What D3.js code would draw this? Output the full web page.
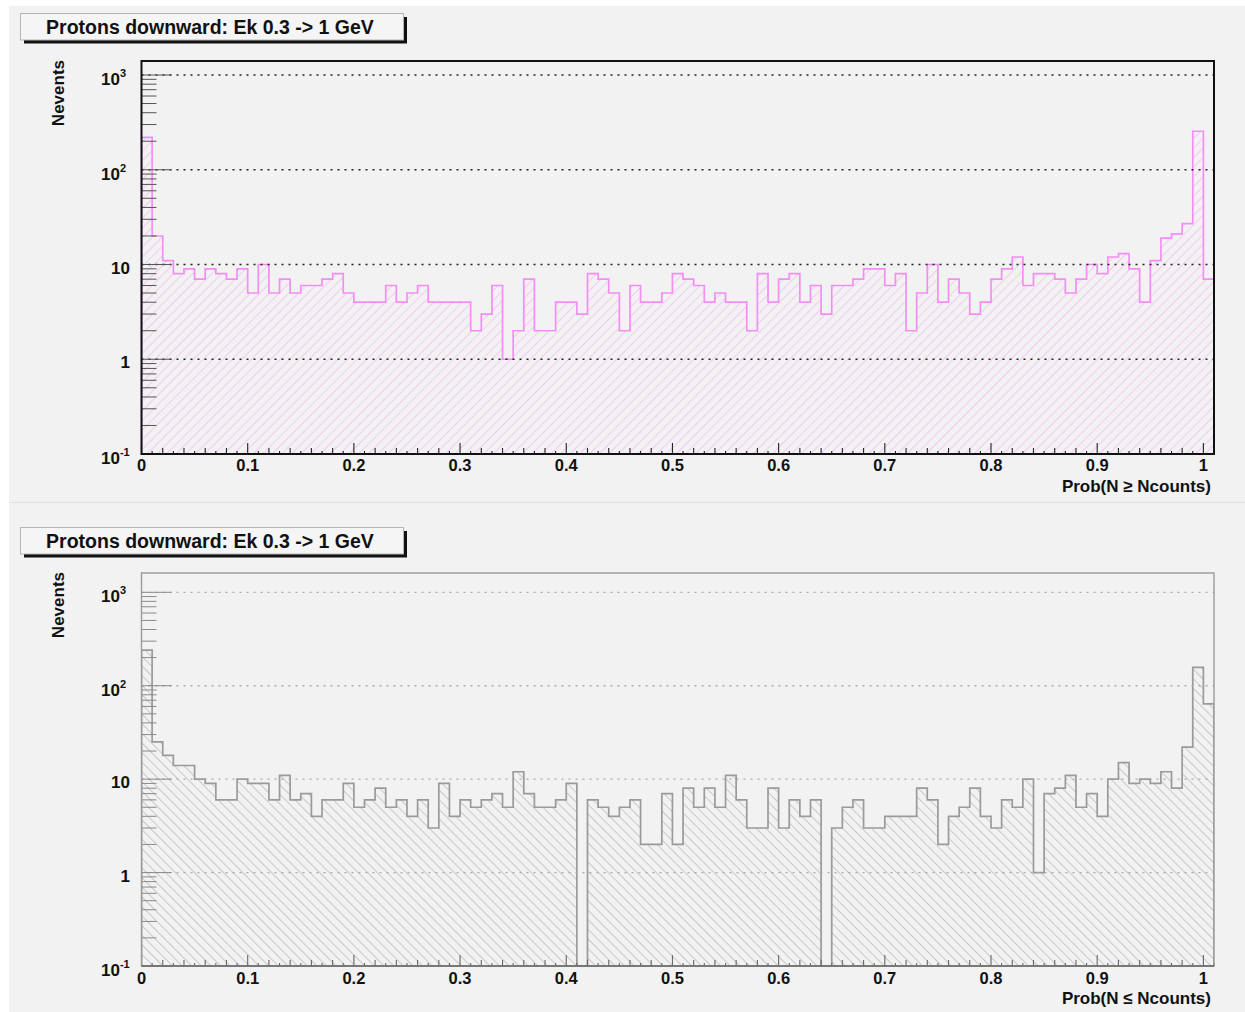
<!DOCTYPE html>
<html><head><meta charset="utf-8">
<script src="https://cdn.jsdelivr.net/npm/d3@7"></script>
<style>
html,body{margin:0;padding:0;background:#ffffff;}
svg{display:block;font-family:"Liberation Sans",Arial,Helvetica,sans-serif;}
</style>
</head><body><div id="chart"></div>
<script>
// ---------------- data ----------------
const chartTitle = "Protons downward: Ek 0.3 -> 1 GeV";
const yAxisTitle = "Nevents";
const xAxisTitles = ["Prob(N \u2265 Ncounts)", "Prob(N \u2264 Ncounts)"];
const binWidth = 0.01;
const xMin = 0, xMax = 1.01;
// counts per bin of 0.01 (101 bins, 0 -> 1.01)
const countsGE = [220,20,11,8,9,7,9,8,7,9, 5,10,5,7,5,6,6,7,8,5,
                  4,4,4,6,4,5,6,4,4,4, 4,2,3,6,1,2,7,2,2,4,
                  4,3,8,7,5,2,6,4,4,5, 8,7,6,4,5,4,4,2,8,4,
                  7,8,4,6,3,6,6,7,9,9, 6,8,2,5,10,4,7,5,3,4,
                  7,9,12,6,8,8,7,5,7,10, 8,12,13,9,4,11,19,21,27,255,
                  7];
const countsLE = [240,25,18,14,14,10,9,6,6,10, 9,9,6,11,6,7,4,6,6,9,
                  5,6,8,5,6,4,6,3,9,4, 6,5,6,7,5,12,7,5,5,6,
                  9,0,6,5,4,5,6,2,2,7, 2,8,5,8,5,11,6,3,3,8,
                  3,6,4,6,0,3,5,6,3,3, 4,4,4,8,6,2,4,5,8,4,
                  3,6,5,10,1,7,8,11,5,7, 4,10,15,9,10,9,12,8,22,157,
                  64];
const xTickValues = [0,0.1,0.2,0.3,0.4,0.5,0.6,0.7,0.8,0.9,1];
const xTickLabels = ["0","0.1","0.2","0.3","0.4","0.5","0.6","0.7","0.8","0.9","1"];
const yTickValues = [0.1,1,10,100,1000];
const yTickBase   = ["10","1","10","10","10"];
const yTickExp    = ["-1",null,null,"2","3"];

// ---------------- layout ----------------
const W = 1245, H = 1012;
const svg = d3.select("#chart").append("svg").attr("width", W).attr("height", H);
const defs = svg.append("defs");

function hatch(id, color, angle) {
  const p = defs.append("pattern").attr("id", id).attr("patternUnits", "userSpaceOnUse")
    .attr("width", 6.8).attr("height", 6.8).attr("patternTransform", `rotate(${angle})`);
  p.append("line").attr("x1", 3.4).attr("y1", 0).attr("x2", 3.4).attr("y2", 6.8)
    .attr("stroke", color).attr("stroke-width", 0.9);
}
hatch("hatchPink", "#f3c6f3", 45);
hatch("hatchGrey", "#c4c4c4", -45);

// panel backgrounds
svg.append("rect").attr("x", 9).attr("y", 6).attr("width", W - 9).attr("height", 495).attr("fill", "#f2f2f2");
svg.append("rect").attr("x", 9).attr("y", 504).attr("width", W - 9).attr("height", H - 504).attr("fill", "#f2f2f2");
svg.append("line").attr("x1", 9).attr("x2", W).attr("y1", 502.5).attr("y2", 502.5).attr("stroke", "#e2e2e2").attr("stroke-width", 2);

const panels = [
  { counts: countsGE, xTitle: xAxisTitles[0], frameTop: 61, bottom: 454, y1000: 75,
    line: "#f48ef4", fill: "url(#hatchPink)", frame: "#111", frameW: 2, tick: "#555", xtick: "#222", axis: "#111",
    grid: "#222", gridDash: "2,5", labelBase: 471, xTitleY: 492, boxY: 13, id: "c0" },
  { counts: countsLE, xTitle: xAxisTitles[1], frameTop: 573, bottom: 966, y1000: 592.3,
    line: "#9a9a9a", fill: "url(#hatchGrey)", frame: "#9a9a9a", frameW: 1.4, tick: "#8a8a8a", xtick: "#666", axis: "#666",
    grid: "#aaaaaa", gridDash: "2,5", labelBase: 984, xTitleY: 1004, boxY: 527, id: "c1" }
];

const left = 141.5, right = 1214;

panels.forEach(P => {
  const g = svg.append("g");
  const x = d3.scaleLinear().domain([xMin, xMax]).range([left, right]);
  const y = d3.scaleLog().domain([0.1, 1000]).range([P.bottom, P.y1000]);

  defs.append("clipPath").attr("id", P.id).append("rect")
    .attr("x", left).attr("y", P.frameTop).attr("width", right - left).attr("height", P.bottom - P.frameTop);

  // histogram points
  const pts = [[xMin, 0]];
  P.counts.forEach((c, i) => {
    const x0 = xMin + i * binWidth;
    pts.push([x0, c]); pts.push([x0 + binWidth, c]);
  });
  pts.push([xMax, 0]);
  const yv = v => y(Math.max(v, 0.1));

  const area = d3.area().x(p => x(p[0])).y0(P.bottom).y1(p => yv(p[1]));
  const line = d3.line().x(p => x(p[0])).y(p => yv(p[1]));

  const plot = g.append("g").attr("clip-path", `url(#${P.id})`);
  plot.append("path").attr("d", area(pts)).attr("fill", P.fill);

  // grid
  yTickValues.slice(1).forEach(v => {
    g.append("line").attr("x1", left).attr("x2", right).attr("y1", y(v)).attr("y2", y(v))
      .attr("stroke", P.grid).attr("stroke-width", 1.3).attr("stroke-dasharray", P.gridDash);
  });

  plot.append("path").attr("d", line(pts)).attr("fill", "none")
    .attr("stroke", P.line).attr("stroke-width", 1.7);

  // y ticks (log)
  [0.1, 1, 10, 100, 1000].forEach(d => {
    for (let m = 1; m <= 9; m++) {
      const yy = y(d * m);
      if (yy < P.frameTop) continue;
      const len = m === 1 ? 30 : 15;
      g.append("line").attr("x1", left).attr("x2", left + len).attr("y1", yy).attr("y2", yy)
        .attr("stroke", P.tick).attr("stroke-width", 1);
    }
  });

  // x ticks
  d3.range(0, 102).forEach(k => {
    const v = k * 0.01;
    const len = k % 10 === 0 ? 11 : (k % 2 === 0 ? 6 : 3);
    g.append("line").attr("x1", x(v)).attr("x2", x(v)).attr("y1", P.bottom).attr("y2", P.bottom - len)
      .attr("stroke", P.xtick).attr("stroke-width", 1.1);
  });

  // frame
  g.append("rect").attr("x", left).attr("y", P.frameTop).attr("width", right - left)
    .attr("height", P.bottom - P.frameTop).attr("fill", "none")
    .attr("stroke", P.frame).attr("stroke-width", P.frameW);
  g.append("line").attr("x1", left).attr("x2", right).attr("y1", P.bottom).attr("y2", P.bottom)
    .attr("stroke", P.axis).attr("stroke-width", P.frameW);

  // x tick labels
  xTickValues.forEach((v, i) => {
    g.append("text").attr("x", x(v)).attr("y", P.labelBase).attr("text-anchor", "middle")
      .attr("font-size", 16.5).attr("font-weight", "bold").attr("fill", "#111").text(xTickLabels[i]);
  });

  // y tick labels
  yTickValues.forEach((v, i) => {
    const yy = y(v);
    if (yTickExp[i]) {
      const t = g.append("text").attr("x", 101).attr("y", yy + 10).attr("text-anchor", "start")
        .attr("font-size", 17).attr("font-weight", "bold").attr("fill", "#111");
      t.append("tspan").text(yTickBase[i]);
      t.append("tspan").attr("font-size", 11).attr("dy", -8).text(yTickExp[i]);
    } else {
      g.append("text").attr("x", 130).attr("y", yy + 9).attr("text-anchor", "end")
        .attr("font-size", 17).attr("font-weight", "bold").attr("fill", "#111").text(yTickBase[i]);
    }
  });

  // axis titles
  g.append("text").attr("transform", `translate(64,${P.frameTop - 1}) rotate(-90)`)
    .attr("text-anchor", "end").attr("font-size", 17).attr("font-weight", "bold").attr("fill", "#111")
    .text(yAxisTitle);
  g.append("text").attr("x", 1211).attr("y", P.xTitleY).attr("text-anchor", "end")
    .attr("font-size", 17).attr("font-weight", "bold").attr("fill", "#111").text(P.xTitle);

  // title box with shadow
  g.append("rect").attr("x", 24).attr("y", P.boxY + 4).attr("width", 383).attr("height", 26.5).attr("fill", "#111");
  g.append("rect").attr("x", 20.5).attr("y", P.boxY + 0.5).attr("width", 383).attr("height", 26.5)
    .attr("fill", "#f5f5f5").attr("stroke", "#b5b5b5").attr("stroke-width", 1);
  g.append("text").attr("x", 210).attr("y", P.boxY + 21.3).attr("text-anchor", "middle")
    .attr("font-size", 19.5).attr("font-weight", "bold").attr("fill", "#111").text(chartTitle);
});
</script>
</body></html>
